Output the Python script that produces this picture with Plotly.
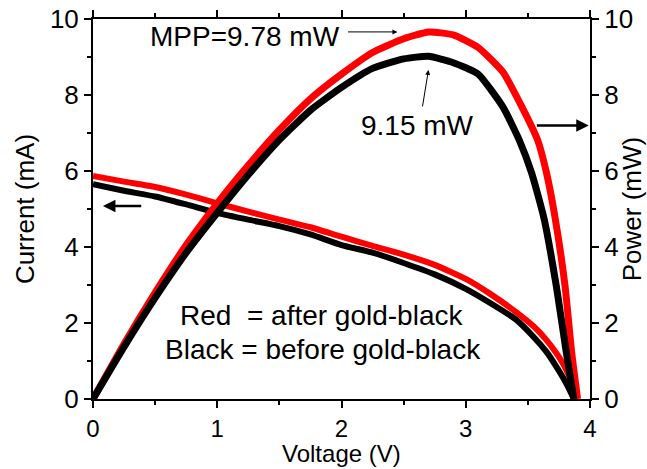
import plotly.graph_objects as go

# ---- data ----
v_cur_red = [0.0, 0.25, 0.5, 0.75, 1.0, 1.25, 1.5, 1.75, 2.0, 2.25, 2.5, 2.75, 3.0, 3.2, 3.4, 3.55, 3.65, 3.72, 3.78, 3.83, 3.87, 3.90]
i_red = [5.87, 5.72, 5.58, 5.38, 5.15, 4.93, 4.72, 4.52, 4.27, 4.03, 3.80, 3.53, 3.16, 2.76, 2.30, 1.90, 1.55, 1.25, 0.95, 0.62, 0.28, 0.0]

v_cur_black = [0.0, 0.25, 0.5, 0.75, 1.0, 1.25, 1.5, 1.75, 2.0, 2.25, 2.5, 2.75, 3.0, 3.2, 3.4, 3.55, 3.65, 3.72, 3.78, 3.83, 3.87]
i_black = [5.65, 5.48, 5.33, 5.12, 4.90, 4.72, 4.55, 4.33, 4.05, 3.85, 3.58, 3.28, 2.90, 2.52, 2.10, 1.62, 1.24, 0.90, 0.58, 0.28, 0.0]

v_pow_red = [0.0, 0.25, 0.5, 0.75, 1.0, 1.25, 1.5, 1.75, 2.0, 2.25, 2.5, 2.7, 2.9, 3.1, 3.3, 3.45, 3.58, 3.65, 3.72, 3.80, 3.85, 3.90]
p_red = [0.0, 1.45, 2.80, 4.05, 5.15, 6.15, 7.08, 7.9, 8.55, 9.12, 9.48, 9.66, 9.58, 9.25, 8.6, 7.7, 6.8, 5.95, 4.75, 2.95, 1.3, 0.0]

v_pow_black = [0.0, 0.25, 0.5, 0.75, 1.0, 1.25, 1.5, 1.75, 2.0, 2.25, 2.5, 2.7, 2.9, 3.1, 3.3, 3.43, 3.53, 3.63, 3.73, 3.81, 3.87]
p_black = [0.0, 1.37, 2.66, 3.85, 4.9, 5.9, 6.82, 7.6, 8.2, 8.7, 8.95, 9.02, 8.85, 8.55, 7.68, 6.82, 5.95, 4.75, 2.95, 1.21, 0.0]

x_ticks = [0, 1, 2, 3, 4]
y_ticks = [0, 2, 4, 6, 8, 10]

FONT = "Liberation Sans, Arial, sans-serif"
RED = "#ff0000"
BLACK = "#000000"

fig = go.Figure()
line_kw = dict(shape="spline", smoothing=0.5)
fig.add_trace(go.Scatter(x=v_cur_red, y=i_red, mode="lines", name="I after",
                         line=dict(color=RED, width=6, **line_kw)))
fig.add_trace(go.Scatter(x=v_pow_red, y=p_red, mode="lines", name="P after", yaxis="y2",
                         line=dict(color=RED, width=7, **line_kw)))
fig.add_trace(go.Scatter(x=v_cur_black, y=i_black, mode="lines", name="I before",
                         line=dict(color=BLACK, width=6, **line_kw)))
fig.add_trace(go.Scatter(x=v_pow_black, y=p_black, mode="lines", name="P before", yaxis="y2",
                         line=dict(color=BLACK, width=7, **line_kw)))

axis_common = dict(showline=True, linecolor="black", linewidth=2, ticks="outside",
                   ticklen=7, tickwidth=2, tickcolor="black", showgrid=False, zeroline=False,
                   automargin=False)
minor_kw = dict(ticklen=4, tickwidth=2, tickcolor="black", ticks="outside")

fig.update_layout(
    width=647, height=469,
    margin=dict(l=93, r=57, t=19, b=70),
    plot_bgcolor="white", paper_bgcolor="white",
    showlegend=False,
    xaxis=dict(range=[0, 4], tickvals=x_ticks, mirror="ticks",
               minor=dict(dtick=0.5, **minor_kw),
               tickfont=dict(family=FONT, size=24, color="black"),
               **axis_common),
    yaxis=dict(range=[0, 10], tickvals=y_ticks,
               minor=dict(dtick=1, **minor_kw),
               tickfont=dict(family=FONT, size=26, color="black"),
               title=dict(text="Current (mA)", font=dict(family=FONT, size=26, color="black"), standoff=8),
               **axis_common),
    yaxis2=dict(range=[0, 10], tickvals=y_ticks, overlaying="y", side="right",
                minor=dict(dtick=1, **minor_kw),
                tickfont=dict(family=FONT, size=26, color="black"),
                title=dict(text="Power (mW)", font=dict(family=FONT, size=26, color="black"), standoff=4),
                **axis_common),
)

ann_font = dict(family=FONT, size=28, color="black")
annotations = [
    # x-axis title, anchored to the bottom edge of the page
    dict(x=0.5, y=-70 / 380, xref="paper", yref="paper", text="Voltage (V)", showarrow=False,
         xanchor="center", yanchor="bottom", font=dict(family=FONT, size=24, color="black")),
    dict(x=0.08, y=5.08, ax=0.40, ay=5.08, xref="x", yref="y", axref="x", ayref="y",
         showarrow=True, arrowhead=2, arrowsize=1, arrowwidth=2.5, arrowcolor="black", text=""),
    dict(x=3.99, y=7.2, ax=3.56, ay=7.2, xref="x", yref="y", axref="x", ayref="y",
         showarrow=True, arrowhead=2, arrowsize=1, arrowwidth=2.5, arrowcolor="black", text=""),
    dict(x=1.22, y=9.54, xref="x", yref="y", text="MPP=9.78 mW", showarrow=False, font=ann_font),
    dict(x=2.45, y=9.66, ax=2.04, ay=9.66, xref="x", yref="y", axref="x", ayref="y",
         showarrow=True, arrowhead=2, arrowsize=1, arrowwidth=1, arrowcolor="black", text=""),
    dict(x=2.61, y=7.21, xref="x", yref="y", text="9.15 mW", showarrow=False, font=ann_font),
    dict(x=2.70, y=8.66, ax=2.65, ay=7.66, xref="x", yref="y", axref="x", ayref="y",
         showarrow=True, arrowhead=2, arrowsize=1, arrowwidth=1, arrowcolor="black", text=""),
    dict(x=1.84, y=2.21, xref="x", yref="y", text="Red\u00a0 = after gold-black", showarrow=False, font=ann_font),
    dict(x=1.85, y=1.29, xref="x", yref="y", text="Black = before gold-black", showarrow=False, font=ann_font),
]
fig.update_layout(annotations=annotations)

fig.write_html("out.html")
